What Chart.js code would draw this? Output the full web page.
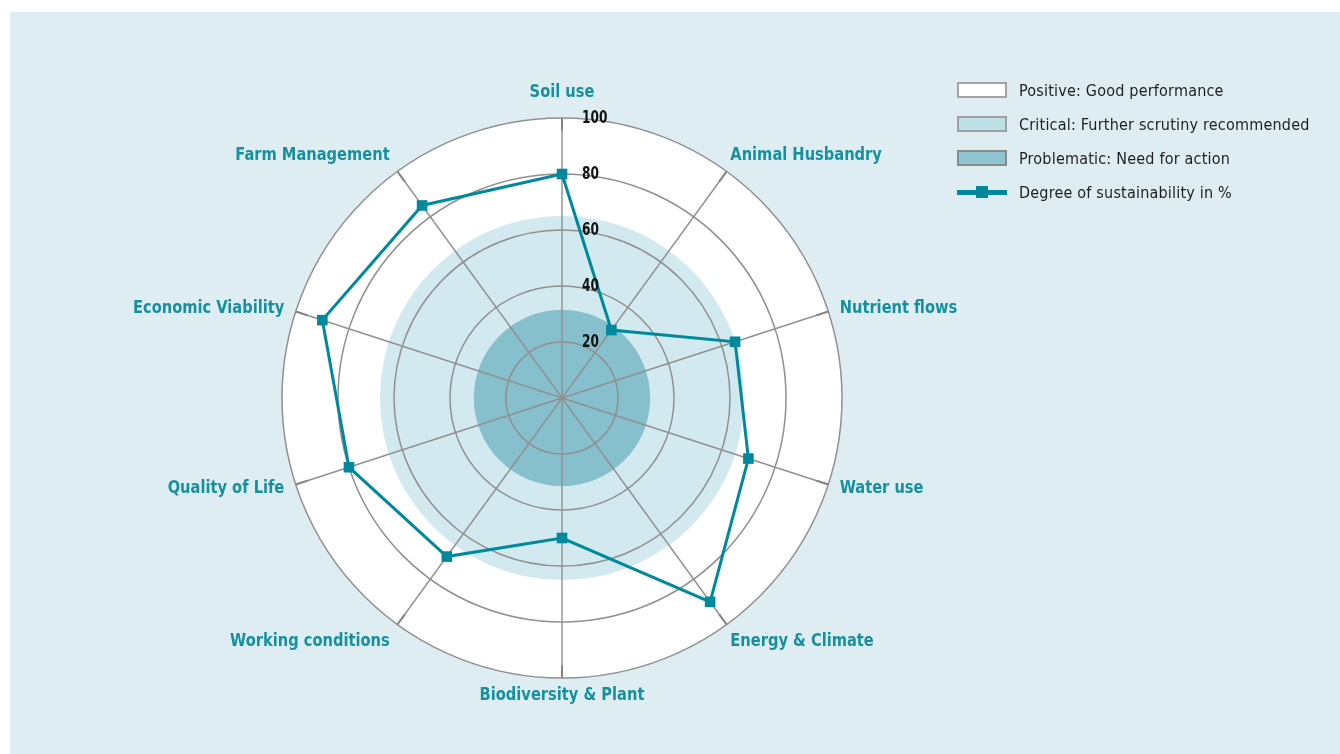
<!DOCTYPE html>
<html>
<head>
<meta charset="utf-8">
<script src="https://cdn.jsdelivr.net/npm/chart.js@4.4.1/dist/chart.umd.min.js"></script>
<style>
  body { margin: 0; background: #fff; width: 1340px; height: 754px; overflow: hidden; position: relative;
         font-family: 'DejaVu Sans Condensed', sans-serif; }
  #panel { position: absolute; left: 10px; top: 12px; width: 1330px; height: 742px; background: #ddedf2; }
  #chart { position: absolute; left: 0; top: 0; }
  #legend { position: absolute; left: 947px; top: 61px; }
  .row { height: 34px; display: flex; align-items: center; font-size: 16px; color: #1e1e1e; letter-spacing: 0.2px; }
  .sw { width: 46px; height: 12px; border: 2px solid #a3a3a3; margin-right: 12px; }
  .ln { width: 50px; height: 5px; background: #00899c; margin-right: 12px; position: relative; }
  .ln:after { content: ''; position: absolute; left: 19px; top: -4px; width: 12px; height: 12px; background: #00899c; }
</style>
</head>
<body>
<div id="panel">
  <canvas id="chart" width="1330" height="742"></canvas>
  <div id="legend"></div>
</div>
<script>
// categories and values
const categories = ['Soil use', 'Animal Husbandry', 'Nutrient flows', 'Water use', 'Energy & Climate',
  'Biodiversity & Plant', 'Working conditions', 'Quality of Life', 'Economic Viability', 'Farm Management'];
const sustainability = [80, 30, 65, 70, 90, 50, 70, 80, 90, 85];
const tickValues = [20, 40, 60, 80, 100];
const seriesName = 'Degree of sustainability in %';

// evaluation zones (upper limit of each zone)
const zoneNames = ['Positive: Good performance', 'Critical: Further scrutiny recommended', 'Problematic: Need for action'];
const zoneLimits = [100, 65, 31.5];
const zoneColors = ['#ffffff', '#d2eaef', '#86c0cc'];
const zoneSwatch = ['#ffffff', '#bde0e7', '#8dc6d1'];
const zoneBorder = ['#a3a3a3', '#a0a0a0', '#8a8a8a'];

const teal = '#00899c';
const labelFont = "bold 18.5px 'DejaVu Sans Condensed', sans-serif";
const tickFont = "bold 18px 'DejaVu Sans Condensed', sans-serif";

// legend
const legend = document.getElementById('legend');
zoneNames.forEach(function (name, i) {
  legend.innerHTML += '<div class="row"><div class="sw" style="background:' + zoneSwatch[i] +
    ';border-color:' + zoneBorder[i] + '"></div>' + name + '</div>';
});
legend.innerHTML += '<div class="row"><div class="ln"></div>' + seriesName + '</div>';

// narrow text: draw squeezed horizontally around the anchor point
function narrowText(ctx, text, x, y, sx) {
  ctx.save();
  ctx.translate(x, y);
  ctx.scale(sx, 1);
  ctx.fillText(text, 0, 0);
  ctx.restore();
}

const zonesPlugin = {
  id: 'zones',
  beforeDraw(chart) {
    const r = chart.scales.r, ctx = chart.ctx;
    ctx.save();
    zoneLimits.forEach(function (v, i) {
      ctx.beginPath();
      ctx.arc(r.xCenter, r.yCenter, r.getDistanceFromCenterForValue(v), 0, Math.PI * 2);
      ctx.fillStyle = zoneColors[i];
      ctx.fill();
    });
    ctx.restore();
  },
  beforeDatasetsDraw(chart) {
    // darker ends of the spokes near the outer ring
    const r = chart.scales.r, ctx = chart.ctx;
    ctx.save();
    ctx.strokeStyle = '#858585';
    ctx.lineWidth = 2;
    categories.forEach(function (c, i) {
      const a = r.getPointPosition(i, r.getDistanceFromCenterForValue(95.5));
      const b = r.getPointPosition(i, r.getDistanceFromCenterForValue(100));
      ctx.beginPath(); ctx.moveTo(a.x, a.y); ctx.lineTo(b.x, b.y); ctx.stroke();
    });
    ctx.restore();
  },
  afterDraw(chart) {
    const r = chart.scales.r, ctx = chart.ctx;
    const outer = r.getDistanceFromCenterForValue(100);
    ctx.save();
    // axis labels
    ctx.font = labelFont;
    ctx.fillStyle = '#16909f';
    ctx.textBaseline = 'middle';
    categories.forEach(function (c, i) {
      const deg = Math.round(r.getIndexAngle(i) * 180 / Math.PI);
      let gap = 12, dx = 0;
      if (deg === 0) gap = 26;
      else if (deg === 180) gap = 17;
      else if (Math.abs(Math.cos(r.getIndexAngle(i))) > 0.5) gap = 20;
      const p = r.getPointPosition(i, outer + gap);
      if (deg === 0 || deg === 180) ctx.textAlign = 'center';
      else if (deg < 180) { ctx.textAlign = 'left'; if (gap === 20) dx = -8; }
      else { ctx.textAlign = 'right'; if (gap === 20) dx = 4; }
      narrowText(ctx, c, p.x + dx, p.y, 0.88);
    });
    // tick labels
    ctx.font = tickFont;
    ctx.fillStyle = '#111';
    ctx.textAlign = 'left';
    tickValues.forEach(function (v) {
      narrowText(ctx, String(v), r.xCenter + 20, r.yCenter - r.getDistanceFromCenterForValue(v), 0.75);
    });
    ctx.restore();
  }
};

new Chart(document.getElementById('chart'), {
  type: 'radar',
  data: {
    labels: categories,
    datasets: [{
      label: seriesName,
      data: sustainability,
      borderColor: teal,
      backgroundColor: 'transparent',
      borderWidth: 3,
      fill: false,
      pointStyle: 'rect',
      pointRadius: 7.5,
      pointHoverRadius: 7.5,
      pointBackgroundColor: teal,
      pointBorderColor: teal,
      pointBorderWidth: 0
    }]
  },
  options: {
    responsive: false,
    animation: false,
    layout: { padding: { top: 106, bottom: 76, left: 272, right: 498 } },
    plugins: { legend: { display: false }, tooltip: { enabled: false } },
    scales: {
      r: {
        min: 0,
        max: 100,
        ticks: { stepSize: 20, display: false },
        grid: { circular: true, color: '#909090', lineWidth: 1.5 },
        angleLines: { color: '#909090', lineWidth: 1.4 },
        pointLabels: { display: false }
      }
    }
  },
  plugins: [zonesPlugin]
});
</script>
</body>
</html>
